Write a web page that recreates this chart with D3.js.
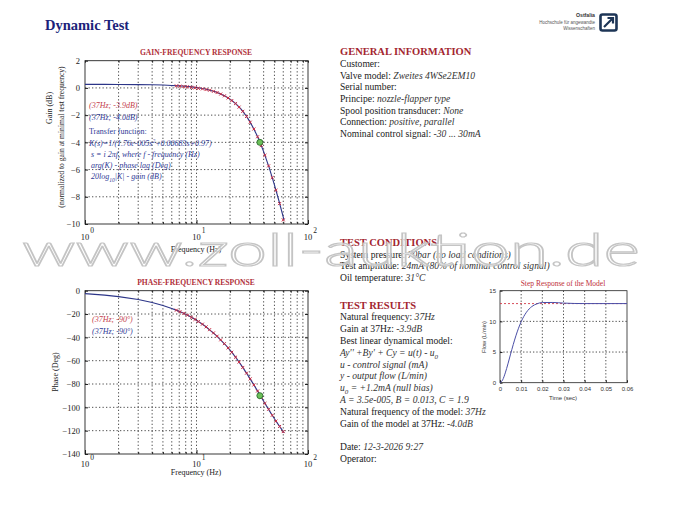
<!DOCTYPE html>
<html><head><meta charset="utf-8">
<script src="https://cdn.jsdelivr.net/npm/d3@7"></script>
<style>body{margin:0;background:#fff;} svg{display:block;}</style>
</head><body><svg id="c" width="680" height="510"></svg>
<script>
// ---------- DATA ----------
const freqModel  = [1,1.5,2,3,4,5,6,7,8,9,10,12,15,18,20,22.4,25,28.1,30,32.7,35,37,40,45,50,55,60,61];
const gainModel  = [0.262,0.259,0.256,0.245,0.229,0.209,0.183,0.152,0.117,0.075,0.028,-0.084,-0.306,-0.593,-0.825,-1.147,-1.547,-2.093,-2.460,-3.019,-3.522,-3.98,-4.685,-5.897,-7.120,-8.327,-9.50,-9.73];
const phaseModel = [-2.52,-3.78,-5.05,-7.58,-10.11,-12.64,-15.18,-17.72,-20.27,-22.82,-25.39,-30.52,-38.22,-45.92,-51.0,-57.01,-63.36,-70.66,-74.95,-80.77,-85.46,-89.3,-94.74,-102.81,-109.75,-115.71,-120.85,-121.79];

const freqMeas  = [6.6,7.1,7.7,8.3,9.0,9.7,10.4,11.3,12.2,13.1,14.2,15.3,16.5,17.8,19.2,20.7,22.4,24.1,26.0,28.1,30.3,32.7,35.3,38.1,41.1,44.3,47.8,51.6,55.6,60.0];
const gainMeas  = [0.15,0.13,0.10,0.08,0.04,0.01,-0.03,-0.07,-0.12,-0.17,-0.25,-0.34,-0.45,-0.58,-0.74,-0.93,-1.15,-1.41,-1.72,-2.10,-2.52,-3.02,-3.59,-4.24,-4.95,-5.73,-6.59,-7.52,-8.50,-9.70];
const phaseMeas = [-16.7,-18.0,-19.5,-21.0,-22.8,-24.6,-26.4,-28.7,-31.0,-33.4,-36.2,-39.0,-42.1,-45.4,-49.0,-52.8,-57.0,-61.2,-65.8,-70.7,-75.6,-80.8,-86.0,-91.4,-96.6,-101.7,-106.8,-111.8,-116.4,-120.8];

const markFreq = 37, markGain = -4.0, markPhase = -90;

const stepTime = [0,0.00125,0.0025,0.00375,0.005,0.0075,0.01,0.0125,0.015,0.0175,0.02,0.025,0.03,0.035,0.04,0.05,0.06];
const stepFlow = [0,0.46,1.6,3.07,4.66,7.64,9.95,11.49,12.41,12.87,13.07,13.08,12.98,12.92,12.9,12.9,12.9];
const stepSteady = 12.9;

const gainTicks  = [2,0,-2,-4,-6,-8,-10];
const phaseTicks = [0,-20,-40,-60,-80,-100,-120,-140];
const freqDecades = [1,10,100];
const stepYTicks = [0,5,10,15];
const stepXTicks = [0,0.01,0.02,0.03,0.04,0.05,0.06];

// ---------- SETUP ----------
const svg = d3.select("#c");
const SERIF = "'Liberation Serif','Times New Roman',serif";
const SANS = "'Liberation Sans',Arial,sans-serif";
const RED = "#a3262f", BLUE = "#2c3588";
svg.append("rect").attr("width",680).attr("height",510).attr("fill","#fff");

svg.append("text").attr("x",45).attr("y",30).attr("font-family",SERIF).attr("font-size",14.5)
  .attr("font-weight","bold").attr("fill","#1c1f7a").text("Dynamic Test");

const logo = svg.append("g").attr("font-family",SANS).attr("fill","#555").attr("text-anchor","end");
logo.append("text").attr("x",595).attr("y",17).attr("font-size",5.2).attr("font-weight","bold").attr("fill","#333").text("Ostfalia");
logo.append("text").attr("x",595).attr("y",24).attr("font-size",4.5).text("Hochschule für angewandte");
logo.append("text").attr("x",595).attr("y",30).attr("font-size",4.5).text("Wissenschaften");
svg.append("rect").attr("x",600.5).attr("y",14.5).attr("width",16).attr("height",16).attr("rx",2)
  .attr("fill","none").attr("stroke","#1d3556").attr("stroke-width",2.6);
svg.append("path").attr("d","M604,27 L613,18 M607.5,18 L613,18 L613,23.5").attr("fill","none")
  .attr("stroke","#1d3556").attr("stroke-width",2.2);

// ---------- FREQUENCY PANELS ----------
function freqPanel(o){
  const g = svg.append("g");
  const x = d3.scaleLog().domain([1,100]).range([85,308]);
  const y = d3.scaleLinear().domain(o.domain).range([o.bottom,o.top]);
  const minors = [];
  [1,10].forEach(d=>{ for(let k=2;k<=9;k++) minors.push(d*k); });
  g.selectAll(".vg").data(minors.concat([10])).enter().append("line")
    .attr("x1",d=>x(d)).attr("x2",d=>x(d)).attr("y1",o.top).attr("y2",o.bottom)
    .attr("stroke","#222").attr("stroke-width",0.8).attr("stroke-dasharray","1.3,2.2");
  g.selectAll(".hg").data(o.ticks.slice(1,-1)).enter().append("line")
    .attr("x1",85).attr("x2",308).attr("y1",d=>y(d)).attr("y2",d=>y(d))
    .attr("stroke","#222").attr("stroke-width",0.8).attr("stroke-dasharray","1.3,2.2");
  const ax = g.append("g").attr("transform",`translate(85,0)`)
    .call(d3.axisLeft(y).tickValues(o.ticks).tickSizeInner(-3).tickSizeOuter(0).tickPadding(5));
  ax.select(".domain").remove();
  ax.selectAll("text").attr("font-family",SERIF).attr("font-size",8.5).attr("fill","#222");
  const axR = g.append("g").attr("transform",`translate(308,0)`)
    .call(d3.axisRight(y).tickValues(o.ticks).tickSizeInner(-3).tickSizeOuter(0).tickFormat(""));
  axR.select(".domain").remove();
  const axB = g.append("g").attr("transform",`translate(0,${o.bottom})`)
    .call(d3.axisBottom(x).tickValues(freqDecades).tickSizeInner(-4).tickSizeOuter(0).tickFormat(""));
  axB.select(".domain").remove();
  const axB2 = g.append("g").attr("transform",`translate(0,${o.bottom})`)
    .call(d3.axisBottom(x).tickValues(minors).tickSizeInner(-2).tickSizeOuter(0).tickFormat(""));
  axB2.select(".domain").remove();
  const axT = g.append("g").attr("transform",`translate(0,${o.top})`)
    .call(d3.axisTop(x).tickValues(minors.concat(freqDecades)).tickSizeInner(-2).tickSizeOuter(0).tickFormat(""));
  axT.select(".domain").remove();
  g.selectAll(".tick line").attr("stroke","#222");
  g.append("rect").attr("x",85).attr("y",o.top).attr("width",223).attr("height",o.bottom-o.top)
    .attr("fill","none").attr("stroke","#222").attr("stroke-width",0.9);
  freqDecades.forEach(d=>{
    const t = g.append("text").attr("x",x(d)-4.3).attr("y",o.lab10)
      .attr("font-family",SERIF).attr("font-size",8.5).attr("fill","#222");
    t.append("tspan").text("10");
    t.append("tspan").attr("dy",-7.5).attr("dx",1).attr("font-size",7.5).text(Math.round(Math.log10(d)));
  });
  g.append("text").attr("x",196).attr("y",o.labX).attr("text-anchor","middle")
    .attr("font-family",SERIF).attr("font-size",8).attr("fill","#222").text("Frequency (Hz)");
  g.append("text").attr("x",196).attr("y",o.top-5.5).attr("text-anchor","middle")
    .attr("font-family",SERIF).attr("font-size",7.6).attr("font-weight","bold").attr("fill","#b0303a").text(o.title);
  const line = d3.line().x((d,i)=>x(o.fm[i])).y(d=>y(d));
  g.append("path").datum(o.vm).attr("d",line).attr("fill","none").attr("stroke",BLUE).attr("stroke-width",1.1);
  g.selectAll(".mk").data(o.vmeas).enter().append("path")
    .attr("transform",(d,i)=>`translate(${x(o.fmeas[i])},${y(d)})`)
    .attr("d",d3.symbol().type(d3.symbolTimes || d3.symbolCross).size(7))
    .attr("fill","none").attr("stroke","#cc2a40").attr("stroke-width",1);
  g.append("circle").attr("cx",x(markFreq)).attr("cy",y(o.mark)).attr("r",3)
    .attr("fill","#6cc05a").attr("stroke","#2d6b2d").attr("stroke-width",0.9);
  return g;
}

freqPanel({top:60.7,bottom:224,domain:[-10,2],ticks:gainTicks,fm:freqModel,vm:gainModel,
  fmeas:freqMeas,vmeas:gainMeas,mark:markGain,title:"GAIN-FREQUENCY RESPONSE",lab10:240,labX:252});
freqPanel({top:290.7,bottom:454,domain:[-140,0],ticks:phaseTicks,fm:freqModel,vm:phaseModel,
  fmeas:freqMeas,vmeas:phaseMeas,mark:markPhase,title:"PHASE-FREQUENCY RESPONSE",lab10:467,labX:475});

svg.append("text").attr("transform","translate(52,108) rotate(-90)").attr("text-anchor","middle")
  .attr("font-family",SERIF).attr("font-size",8).attr("fill","#222").text("Gain (dB)");
svg.append("text").attr("transform","translate(64,137) rotate(-90)").attr("text-anchor","middle")
  .attr("font-family",SERIF).attr("font-size",7.6).attr("fill","#222").text("(normalized to gain at minimal test frequency)");
svg.append("text").attr("transform","translate(58,372) rotate(-90)").attr("text-anchor","middle")
  .attr("font-family",SERIF).attr("font-size",8).attr("fill","#222").text("Phase (Deg)");

const ann = svg.append("g").attr("font-family",SERIF).attr("font-size",8);
ann.append("text").attr("x",89).attr("y",108).attr("font-style","italic").attr("fill","#c4404c").text("(37Hz; -3.9dB)");
ann.append("text").attr("x",89).attr("y",120).attr("font-style","italic").attr("fill","#2f3a96").text("(37Hz; -4.0dB)");
ann.append("text").attr("x",89).attr("y",134).attr("fill","#2f3a96").text("Transfer function:");
const kt = ann.append("text").attr("x",89).attr("y",146).attr("font-style","italic").attr("fill","#2f3a96");
kt.append("tspan").text("K(s)=1/(1.76e-005s");
kt.append("tspan").attr("dy",-3).attr("font-size",5.5).text("2");
kt.append("tspan").attr("dy",3).text("+0.00683s+0.97)");
ann.append("text").attr("x",91).attr("y",157).attr("font-style","italic").attr("fill","#2f3a96").text("s = i 2πf, where f - frequency (Hz)");
ann.append("text").attr("x",91).attr("y",168).attr("font-style","italic").attr("fill","#2f3a96").text("arg(K) - phase lag (Deg)");
const lt = ann.append("text").attr("x",91).attr("y",179).attr("font-style","italic").attr("fill","#2f3a96");
lt.append("tspan").text("20log");
lt.append("tspan").attr("dy",2.5).attr("font-size",5.5).text("10");
lt.append("tspan").attr("dy",-2.5).text("|K| - gain (dB)");

const pan = svg.append("g").attr("font-family",SERIF).attr("font-size",8).attr("font-style","italic");
pan.append("text").attr("x",92).attr("y",322).attr("fill","#c4404c").text("(37Hz; -90°)");
pan.append("text").attr("x",92).attr("y",334).attr("fill","#2f3a96").text("(37Hz; -90°)");

// ---------- STEP RESPONSE ----------
(function(){
  const g = svg.append("g");
  const x = d3.scaleLinear().domain([0,0.06]).range([500,627]);
  const y = d3.scaleLinear().domain([0,15]).range([382.7,290.7]);
  g.selectAll(".vg").data(stepXTicks.slice(1,-1)).enter().append("line")
    .attr("x1",d=>x(d)).attr("x2",d=>x(d)).attr("y1",290.7).attr("y2",382.7)
    .attr("stroke","#222").attr("stroke-width",0.8).attr("stroke-dasharray","1.3,2");
  g.selectAll(".hg").data(stepYTicks.slice(1,-1)).enter().append("line")
    .attr("x1",500).attr("x2",627).attr("y1",d=>y(d)).attr("y2",d=>y(d))
    .attr("stroke","#222").attr("stroke-width",0.8).attr("stroke-dasharray","1.3,2");
  const axL = g.append("g").attr("transform","translate(500,0)")
    .call(d3.axisLeft(y).tickValues(stepYTicks).tickSizeInner(-2.5).tickSizeOuter(0).tickPadding(4));
  axL.select(".domain").remove();
  const axB = g.append("g").attr("transform","translate(0,382.7)")
    .call(d3.axisBottom(x).tickValues(stepXTicks).tickSizeInner(-2.5).tickSizeOuter(0).tickPadding(4)
      .tickFormat(d=>d===0?"0":d3.format(".2f")(d)));
  axB.select(".domain").remove();
  g.selectAll("text").attr("font-family",SANS).attr("font-size",6).attr("fill","#333");
  g.selectAll(".tick line").attr("stroke","#222");
  g.append("rect").attr("x",500).attr("y",290.7).attr("width",127).attr("height",92)
    .attr("fill","none").attr("stroke","#222").attr("stroke-width",0.8);
  g.append("line").attr("x1",500).attr("x2",627).attr("y1",y(stepSteady)).attr("y2",y(stepSteady))
    .attr("stroke","#d23a48").attr("stroke-width",0.9).attr("stroke-dasharray","2,2");
  g.append("path").datum(stepFlow).attr("d",d3.line().x((d,i)=>x(stepTime[i])).y(d=>y(d)).curve(d3.curveMonotoneX))
    .attr("fill","none").attr("stroke","#4a4ea6").attr("stroke-width",1);
  g.append("text").attr("x",563).attr("y",286).attr("text-anchor","middle").attr("font-family",SERIF)
    .attr("font-size",7.5).attr("fill","#c0303a").text("Step Response of the Model");
  g.append("text").attr("x",563).attr("y",400).attr("text-anchor","middle").attr("font-family",SANS)
    .attr("font-size",6).attr("fill","#333").text("Time (sec)");
  g.append("text").attr("transform","translate(486,337) rotate(-90)").attr("text-anchor","middle")
    .attr("font-family",SANS).attr("font-size",5.8).attr("fill","#333").text("Flow (L/min)");
})();

// ---------- TEXT BLOCKS ----------
const tx = svg.append("g").attr("font-family",SERIF).attr("font-size",9.6).attr("fill","#1a1a1a");
function heading(t,yy){ tx.append("text").attr("x",340).attr("y",yy).attr("font-size",10.5)
  .attr("font-weight","bold").attr("fill",RED).text(t); }
function rich(segs,yy,xx){
  const t = tx.append("text").attr("x",xx||340).attr("y",yy);
  segs.forEach(s=>{
    const sp = t.append("tspan").text(s[0]);
    if(s[1]==="i") sp.attr("font-style","italic").attr("fill","#333");
    if(s[1]==="sub") sp.attr("font-style","italic").attr("fill","#333").attr("font-size",7).attr("dy",3);
    if(s[1]==="back") sp.attr("font-style","italic").attr("fill","#333").attr("dy",-3);
  });
}
heading("GENERAL INFORMATION",55);
const general = [
  [["Customer:",""]],
  [["Valve model: ",""],["Zweites 4WSe2EM10","i"]],
  [["Serial number:",""]],
  [["Principe: ",""],["nozzle-flapper type","i"]],
  [["Spool position transducer: ",""],["None","i"]],
  [["Connection: ",""],["positive, parallel","i"]],
  [["Nominal control signal: ",""],["-30 ... 30mA","i"]]
];
general.forEach((l,i)=>rich(l,66.8+i*11.7));

heading("TEST CONDITIONS",246);
const conditions = [
  [["System pressure: ",""],["70bar (no load conditions)","i"]],
  [["Test amplitude: ",""],["24mA (80% of nominal control signal)","i"]],
  [["Oil temperature: ",""],["31°C","i"]]
];
conditions.forEach((l,i)=>rich(l,257.5+i*11.8));

heading("TEST RESULTS",308.5);
const results = [
  [["Natural frequency:  ",""],["37Hz","i"]],
  [["Gain at 37Hz:  ",""],["-3.9dB","i"]],
  [["Best linear dynamical model:",""]],
  [["Ay'' +By' + Cy = u(t) - u","i"],["0","sub"]],
  [[" u - control signal (mA)","i"]],
  [[" y - output flow (L/min)","i"]],
  [[" u","i"],["0","sub"],[" = +1.2mA (null bias)","back"]],
  [["A = 3.5e-005, B = 0.013, C = 1.9","i"]],
  [["Natural frequency of the model:  ",""],["37Hz","i"]],
  [["Gain of the model at 37Hz:  ",""],["-4.0dB","i"]],
  null,
  [["Date: ",""],["12-3-2026 9:27","i"]],
  [["Operator:",""]]
];
results.forEach((l,i)=>{ if(l) rich(l,320.3+i*11.8); });

// ---------- WATERMARK ----------
svg.append("text").attr("x",22).attr("y",266).attr("font-family","Lato,'Open Sans','DejaVu Sans',sans-serif")
  .attr("font-weight",300).attr("font-size",46).attr("textLength",618).attr("lengthAdjust","spacingAndGlyphs")
  .attr("fill","rgba(255,255,255,0.65)").attr("stroke","#c4c4c4").attr("stroke-width",1.2)
  .text("www.zoll-auktion.de");
</script></body></html>
